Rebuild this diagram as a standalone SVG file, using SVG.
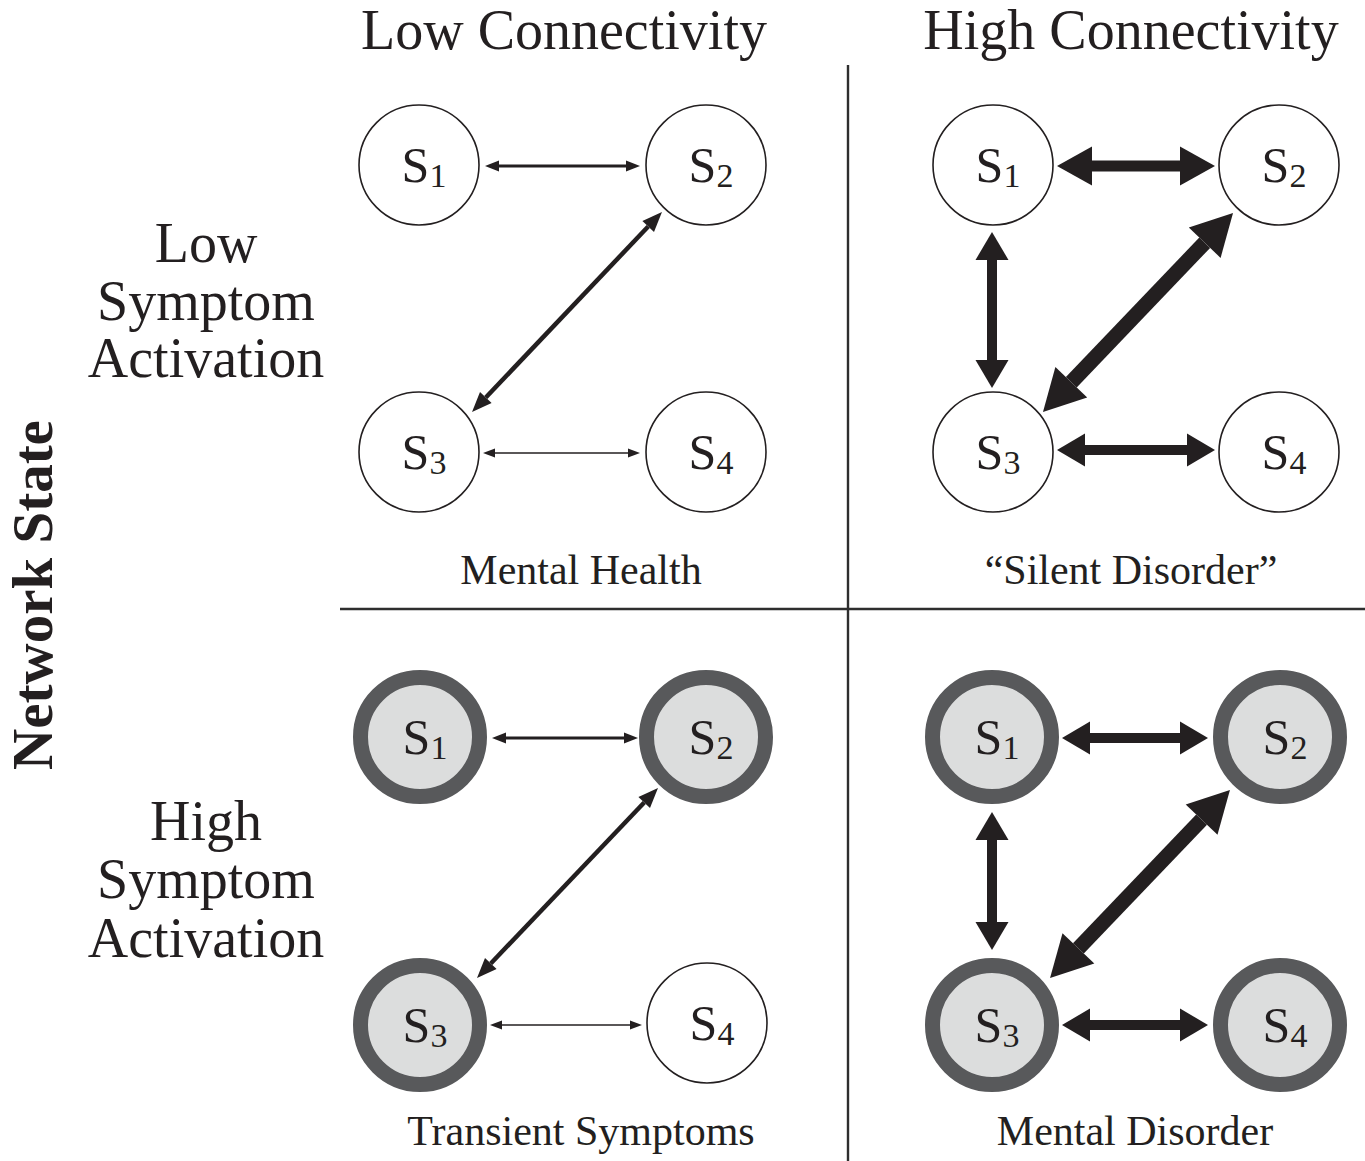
<svg xmlns="http://www.w3.org/2000/svg" width="1365" height="1161" viewBox="0 0 1365 1161">
<style>
text{font-family:"Liberation Serif","Times New Roman",serif;fill:#231f20}
.title{font-size:56px;text-anchor:middle}
.side{font-size:56px;text-anchor:middle}
.cap{font-size:42px;text-anchor:middle}
.lbl{font-size:50px;text-anchor:middle}
.sub{font-size:34px}
.wn{fill:#fff;stroke:#231f20;stroke-width:1.6}
.gn{fill:#dcdddd;stroke:#58595b;stroke-width:15}
.grid{stroke:#2e2e2e;stroke-width:2.4;fill:none}
.e{fill:none;stroke:#231f20}
.h{fill:#231f20}
</style>
<defs>
<marker id="m12" markerUnits="userSpaceOnUse" markerWidth="60" markerHeight="60" viewBox="-1 -30 60 60" refX="0" refY="0" orient="auto-start-reverse" overflow="visible"><path class="h" d="M0,-4.5 L12,0 L0,4.5Z"/></marker>
<marker id="m14" markerUnits="userSpaceOnUse" markerWidth="60" markerHeight="60" viewBox="-1 -30 60 60" refX="0" refY="0" orient="auto-start-reverse" overflow="visible"><path class="h" d="M0,-5.5 L14,0 L0,5.5Z"/></marker>
<marker id="m20" markerUnits="userSpaceOnUse" markerWidth="60" markerHeight="60" viewBox="-1 -30 60 60" refX="0" refY="0" orient="auto-start-reverse" overflow="visible"><path class="h" d="M0,-8 L20,0 L0,8Z"/></marker>
<marker id="mH1" markerUnits="userSpaceOnUse" markerWidth="60" markerHeight="60" viewBox="-1 -30 60 60" refX="0" refY="0" orient="auto-start-reverse" overflow="visible"><path class="h" d="M0,-19.5 L35,0 L0,19.5Z"/></marker>
<marker id="mH2" markerUnits="userSpaceOnUse" markerWidth="60" markerHeight="60" viewBox="-1 -30 60 60" refX="0" refY="0" orient="auto-start-reverse" overflow="visible"><path class="h" d="M0,-16.5 L28,0 L0,16.5Z"/></marker>
<marker id="mD" markerUnits="userSpaceOnUse" markerWidth="60" markerHeight="60" viewBox="-1 -30 60 60" refX="0" refY="0" orient="auto-start-reverse" overflow="visible"><path class="h" d="M0,-22 L41,0 L0,22Z"/></marker>
</defs>

<g id="grid">
<line class="grid" x1="848" y1="65" x2="848" y2="1161"/>
<line class="grid" x1="340" y1="609" x2="1365" y2="609"/>
</g>

<g id="headers">
<text class="title" x="564" y="49">Low Connectivity</text>
<text class="title" x="1131" y="49">High Connectivity</text>
<text class="side" x="206" y="262">Low</text>
<text class="side" x="206" y="320">Symptom</text>
<text class="side" x="206" y="377">Activation</text>
<text class="side" x="206" y="840">High</text>
<text class="side" x="206" y="898">Symptom</text>
<text class="side" x="206" y="957">Activation</text>
<text x="52" y="595" transform="rotate(-90 52 595)" style="font-size:57px;font-weight:bold;text-anchor:middle">Network State</text>
<text class="cap" x="581" y="584">Mental Health</text>
<text class="cap" x="1131" y="584">“Silent Disorder”</text>
<text class="cap" x="581" y="1145">Transient Symptoms</text>
<text class="cap" x="1135" y="1145">Mental Disorder</text>
</g>

<g id="connectors">
<line class="e" x1="499" y1="166" x2="626" y2="166" stroke-width="3" marker-start="url(#m14)" marker-end="url(#m14)"/>
<line class="e" x1="648.2" y1="226.5" x2="485.8" y2="397.5" stroke-width="4.5" marker-start="url(#m20)" marker-end="url(#m20)"/>
<line class="e" x1="495" y1="453" x2="628" y2="453" stroke-width="1.5" marker-start="url(#m12)" marker-end="url(#m12)"/>
<line class="e" x1="1092" y1="166" x2="1180" y2="166" stroke-width="11" marker-start="url(#mH1)" marker-end="url(#mH1)"/>
<line class="e" x1="992" y1="260" x2="992" y2="360" stroke-width="10" marker-start="url(#mH2)" marker-end="url(#mH2)"/>
<line class="e" x1="1204.7" y1="242.7" x2="1071.3" y2="382.3" stroke-width="15" marker-start="url(#mD)" marker-end="url(#mD)"/>
<line class="e" x1="1085" y1="450" x2="1187" y2="450" stroke-width="10" marker-start="url(#mH2)" marker-end="url(#mH2)"/>
<line class="e" x1="506" y1="738" x2="624" y2="738" stroke-width="3" marker-start="url(#m14)" marker-end="url(#m14)"/>
<line class="e" x1="644.2" y1="802.5" x2="490.8" y2="963.5" stroke-width="4.5" marker-start="url(#m20)" marker-end="url(#m20)"/>
<line class="e" x1="502" y1="1025" x2="630" y2="1025" stroke-width="1.5" marker-start="url(#m12)" marker-end="url(#m12)"/>
<line class="e" x1="1090" y1="738" x2="1180" y2="738" stroke-width="10" marker-start="url(#mH2)" marker-end="url(#mH2)"/>
<line class="e" x1="992" y1="840" x2="992" y2="922" stroke-width="10" marker-start="url(#mH2)" marker-end="url(#mH2)"/>
<line class="e" x1="1201.6" y1="819.6" x2="1078.4" y2="948.4" stroke-width="15" marker-start="url(#mD)" marker-end="url(#mD)"/>
<line class="e" x1="1090" y1="1025" x2="1180" y2="1025" stroke-width="10" marker-start="url(#mH2)" marker-end="url(#mH2)"/>
</g>

<g id="tl-s1"><circle class="wn" cx="419" cy="165" r="60"/><text class="lbl" x="424" y="182">S<tspan class="sub" dy="5">1</tspan></text></g>
<g id="tl-s2"><circle class="wn" cx="706" cy="165" r="60"/><text class="lbl" x="711" y="182">S<tspan class="sub" dy="5">2</tspan></text></g>
<g id="tl-s3"><circle class="wn" cx="419" cy="452" r="60"/><text class="lbl" x="424" y="469">S<tspan class="sub" dy="5">3</tspan></text></g>
<g id="tl-s4"><circle class="wn" cx="706" cy="452" r="60"/><text class="lbl" x="711" y="469">S<tspan class="sub" dy="5">4</tspan></text></g>
<g id="tr-s1"><circle class="wn" cx="993" cy="165" r="60"/><text class="lbl" x="998" y="182">S<tspan class="sub" dy="5">1</tspan></text></g>
<g id="tr-s2"><circle class="wn" cx="1279" cy="165" r="60"/><text class="lbl" x="1284" y="182">S<tspan class="sub" dy="5">2</tspan></text></g>
<g id="tr-s3"><circle class="wn" cx="993" cy="452" r="60"/><text class="lbl" x="998" y="469">S<tspan class="sub" dy="5">3</tspan></text></g>
<g id="tr-s4"><circle class="wn" cx="1279" cy="452" r="60"/><text class="lbl" x="1284" y="469">S<tspan class="sub" dy="5">4</tspan></text></g>
<g id="bl-s1"><circle class="gn" cx="420" cy="737" r="59.5"/><text class="lbl" x="425" y="754">S<tspan class="sub" dy="5">1</tspan></text></g>
<g id="bl-s2"><circle class="gn" cx="706" cy="737" r="59.5"/><text class="lbl" x="711" y="754">S<tspan class="sub" dy="5">2</tspan></text></g>
<g id="bl-s3"><circle class="gn" cx="420" cy="1025" r="59.5"/><text class="lbl" x="425" y="1042">S<tspan class="sub" dy="5">3</tspan></text></g>
<g id="bl-s4"><circle class="wn" cx="707" cy="1023" r="60"/><text class="lbl" x="712" y="1040">S<tspan class="sub" dy="5">4</tspan></text></g>
<g id="br-s1"><circle class="gn" cx="992" cy="737" r="59.5"/><text class="lbl" x="997" y="754">S<tspan class="sub" dy="5">1</tspan></text></g>
<g id="br-s2"><circle class="gn" cx="1280" cy="737" r="59.5"/><text class="lbl" x="1285" y="754">S<tspan class="sub" dy="5">2</tspan></text></g>
<g id="br-s3"><circle class="gn" cx="992" cy="1025" r="59.5"/><text class="lbl" x="997" y="1042">S<tspan class="sub" dy="5">3</tspan></text></g>
<g id="br-s4"><circle class="gn" cx="1280" cy="1025" r="59.5"/><text class="lbl" x="1285" y="1042">S<tspan class="sub" dy="5">4</tspan></text></g>
</svg>
